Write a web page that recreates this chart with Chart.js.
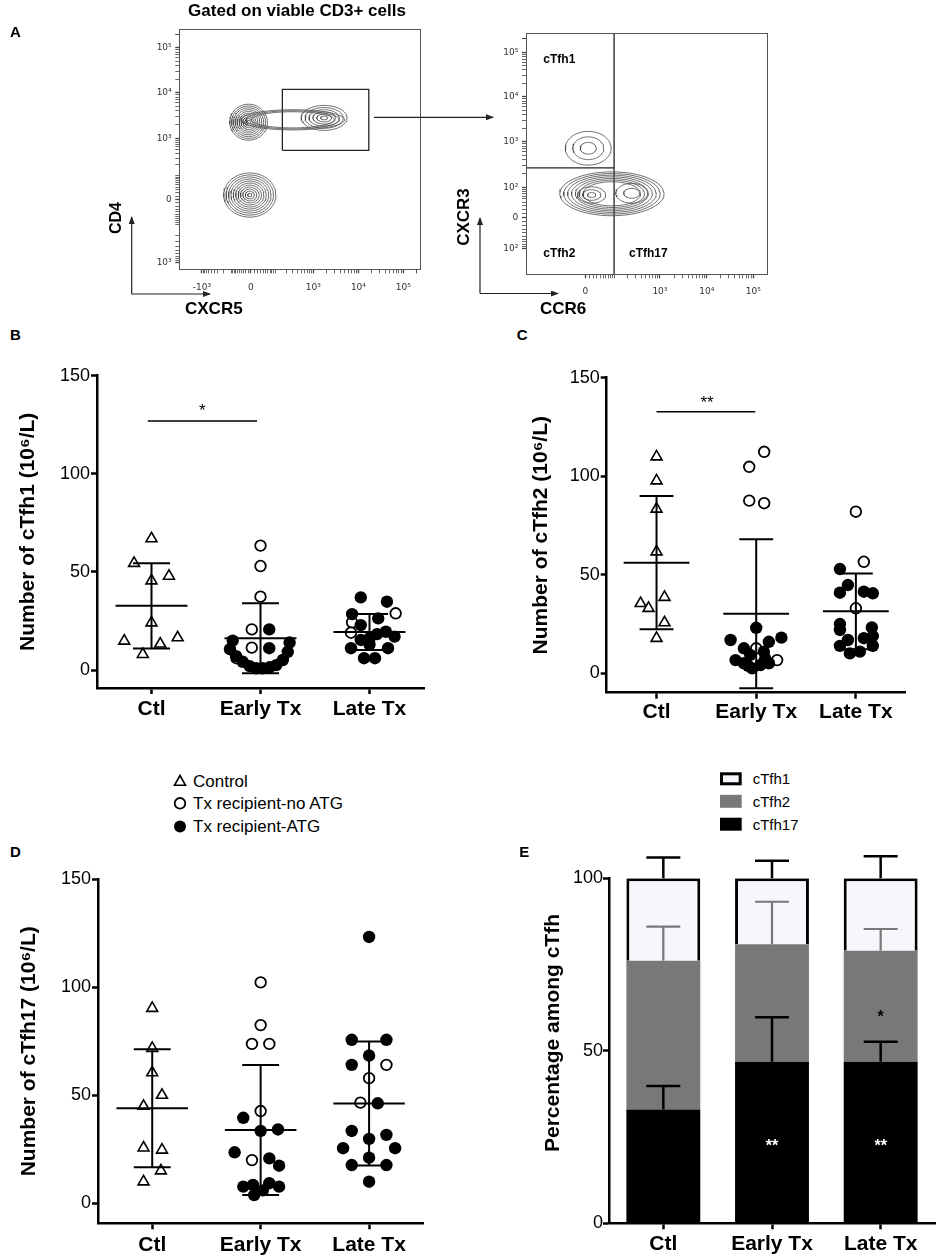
<!DOCTYPE html>
<html><head><meta charset="utf-8">
<script src="https://cdn.jsdelivr.net/npm/chart.js@4.4.1/dist/chart.umd.min.js"></script>
<style>
body{margin:0;background:#fff;}
#page{position:relative;width:938px;height:1260px;overflow:hidden;font-family:'Liberation Sans',Arial,Helvetica,sans-serif;color:#000;}
canvas{position:absolute;}
.t{position:absolute;white-space:nowrap;line-height:1;z-index:6;}
.b{font-weight:bold;}
.rot{position:absolute;transform:rotate(-90deg);text-align:center;white-space:nowrap;font-weight:bold;z-index:6;}
</style></head>
<body><div id="page">

<canvas id="flowL" width="310" height="285" style="left:120px;top:20px"></canvas>
<canvas id="flowR" width="310" height="290" style="left:470px;top:20px"></canvas>
<canvas id="cB" width="440" height="370" style="left:0px;top:360px"></canvas>
<canvas id="cC" width="478" height="370" style="left:460px;top:360px"></canvas>
<canvas id="cD" width="440" height="400" style="left:0px;top:860px"></canvas>
<canvas id="cE" width="478" height="420" style="left:460px;top:840px"></canvas>

<!-- panel letters & titles -->
<div class="t b" style="left:10px;top:24px;font-size:15px">A</div>
<div class="t b" style="left:0px;width:594px;text-align:center;top:1.6px;font-size:17px">Gated on viable CD3+ cells</div>
<div class="t b" style="left:10px;top:327.3px;font-size:15px">B</div>
<div class="t b" style="left:516.7px;top:327.3px;font-size:15px">C</div>
<div class="t b" style="left:10px;top:844px;font-size:15px">D</div>
<div class="t b" style="left:519.3px;top:844px;font-size:15px">E</div>

<!-- flow axis labels -->
<div class="rot" style="left:86px;top:208px;width:60px;height:20px;line-height:20px;font-size:16px">CD4</div>
<div class="t b" style="left:185px;top:299.6px;font-size:17px">CXCR5</div>
<div class="rot" style="left:424px;top:207px;width:80px;height:20px;line-height:20px;font-size:17px">CXCR3</div>
<div class="t b" style="left:540px;top:299.6px;font-size:17px">CCR6</div>
<div class="t b" style="left:543.3px;top:53.2px;font-size:12px">cTfh1</div>
<div class="t b" style="left:543.3px;top:246.5px;font-size:12px">cTfh2</div>
<div class="t b" style="left:629px;top:246.5px;font-size:12px">cTfh17</div>

<!-- arrows of panel A -->
<svg width="938" height="320" style="position:absolute;left:0;top:0;z-index:5">
<defs><marker id="ah" markerWidth="8" markerHeight="6" refX="7" refY="3" orient="auto" markerUnits="userSpaceOnUse"><path d="M0,0 L8,3 L0,6 z" fill="#222"/></marker></defs>
<line x1="131.7" y1="294" x2="131.7" y2="217" stroke="#222" stroke-width="1.2" marker-end="url(#ah)"/>
<line x1="131.7" y1="294" x2="210" y2="294" stroke="#222" stroke-width="1.2" marker-end="url(#ah)"/>
<line x1="480" y1="293.5" x2="480" y2="218" stroke="#222" stroke-width="1.2" marker-end="url(#ah)"/>
<line x1="480" y1="293.5" x2="558" y2="293.5" stroke="#222" stroke-width="1.2" marker-end="url(#ah)"/>
<line x1="374" y1="117.3" x2="493" y2="117.3" stroke="#222" stroke-width="1.2" marker-end="url(#ah)"/>
</svg>

<!-- legend D -->
<svg width="30" height="70" style="position:absolute;left:165px;top:770px;z-index:5">
<polygon points="15,5.5 20.5,15.3 9.5,15.3" fill="#fff" stroke="#000" stroke-width="1.6"/>
<circle cx="15" cy="33.3" r="5.3" fill="#fff" stroke="#000" stroke-width="1.8"/>
<circle cx="15" cy="56.5" r="6" fill="#000"/>
</svg>
<div class="t" style="left:193px;top:773.4px;font-size:17px">Control</div>
<div class="t" style="left:193px;top:795px;font-size:17px">Tx recipient-no ATG</div>
<div class="t" style="left:193px;top:818.4px;font-size:17px">Tx recipient-ATG</div>

<!-- legend E -->
<svg width="30" height="70" style="position:absolute;left:715px;top:768px;z-index:5">
<rect x="6.5" y="5.8" width="18.7" height="10" fill="#f6f6fb" stroke="#000" stroke-width="3"/>
<rect x="5" y="26.8" width="21.7" height="13" fill="#787878"/>
<rect x="5" y="49.7" width="21.7" height="13" fill="#000"/>
</svg>
<div class="t" style="left:752.7px;top:770.9px;font-size:15px">cTfh1</div>
<div class="t" style="left:752.7px;top:794px;font-size:15px">cTfh2</div>
<div class="t" style="left:752.7px;top:817px;font-size:15px">cTfh17</div>

<div class="rot" style="left:401.7px;top:1020.3px;width:300px;height:26px;line-height:26px;font-size:21px">Percentage among cTfh</div>

</div>
<script>
// ================= DATA =================
const categories = ['Ctl', 'Early Tx', 'Late Tx'];
const yTicksCount = [0, 50, 100, 150];
const yTicksPct = [0, 50, 100];

// ---- Panel B : cTfh1 (10^6/L) ----
const bCtlTriY   = [67.0, 54.4, 45.5, 47.9, 24.1, 14.8, 13.3, 16.5, 8.0];
const bCtlTriDx  = [0, -0.16, 0, 0.16, 0, -0.25, 0.08, 0.24, -0.08];
const bEarlyOpenY  = [63.4, 53.0, 37.4, 20.7, 11.4, 6.0];
const bEarlyOpenDx = [0, 0, 0, -0.08, -0.08, -0.22];
const bEarlyFillY  = [20.7, 11.1, 15.0, 10.6, 7.1, 4.2, 2.0, 0.9, 0.9, 1.4, 2.5, 5.1, 9.3, 14.0];
const bEarlyFillDx = [0.08, 0.08, -0.255, -0.28, -0.224, -0.163, -0.10, -0.04, 0.02, 0.083, 0.145, 0.205, 0.25, 0.267];
const bLateOpenY   = [28.9, 24.3, 19.0];
const bLateOpenDx  = [0.24, -0.16, -0.17];
const bLateFillY   = [37.0, 34.8, 28.5, 26.3, 22.9, 19.5, 17.0, 16.2, 18.3, 15.3, 11.1, 11.1, 6.0, 6.0, 13.0];
const bLateFillDx  = [-0.08, 0.16, -0.16, 0.08, -0.08, 0.15, 0.23, 0.0, 0.07, -0.08, -0.17, 0.17, -0.05, 0.05, 0.0];
const bMean = [32.7, 16.15, 19.35];
const bSd   = [21.7, 17.85, 9.15];
const bSig  = [0.966, 1.968, 126.9];

// ---- Panel C : cTfh2 (10^6/L) ----
const cCtlTriY   = [109.9, 97.7, 83.4, 61.7, 35.5, 33.0, 38.6, 25.7, 17.8];
const cCtlTriDx  = [0, 0, 0, 0, -0.16, -0.08, 0.08, 0.08, 0];
const cEarlyOpenY  = [112.4, 104.8, 87.6, 86.3, 12.7, 6.7];
const cEarlyOpenDx = [0.08, -0.07, -0.07, 0.08, 0, 0.21];
const cEarlyFillY  = [23.1, 16.9, 18.1, 12.7, 16.0, 9.3, 11.0, 6.7, 5.1, 2.5, 4.2, 5.1, 7.5, 3.8];
const cEarlyFillDx = [0, -0.257, 0.253, -0.123, 0.127, -0.06, 0.077, -0.207, -0.123, -0.04, 0.043, 0.127, 0.09, -0.08];
const cLateOpenY   = [82.0, 56.6, 33.0];
const cLateOpenDx  = [0, 0.08, 0];
const cLateFillY   = [52.9, 44.8, 40.9, 41.4, 40.6, 25.0, 23.3, 22.0, 17.8, 18.9, 16.9, 13.9, 13.9, 10.1, 11.0];
const cLateFillDx  = [-0.16, -0.08, -0.16, 0.08, 0.17, -0.16, 0.16, -0.16, 0.08, 0.17, -0.08, -0.16, 0.17, -0.06, 0.04];
const cMean = [56.15, 30.2, 31.45];
const cSd   = [33.85, 37.8, 19.25];
const cSig  = [1.0, 1.99, 132.7];

// ---- Panel D : cTfh17 (10^6/L) ----
const dCtlTriY   = [90.3, 71.8, 60.5, 50.1, 45.0, 25.7, 24.7, 15.1, 10.0];
const dCtlTriDx  = [0, 0, 0, 0.09, -0.08, -0.08, 0.09, 0.08, -0.08];
const dEarlyOpenY  = [102.3, 82.5, 73.8, 73.8, 42.7, 20.0];
const dEarlyOpenDx = [0, 0, -0.08, 0.08, 0, -0.08];
const dEarlyFillY  = [39.6, 33.5, 34.2, 23.6, 20.8, 17.4, 7.7, 8.5, 3.8, 6.0, 9.3, 7.7];
const dEarlyFillDx = [-0.16, 0, 0.16, -0.24, 0.08, 0.17, -0.16, -0.07, -0.06, 0.02, 0.08, 0.17];
const dLateOpenY   = [64.1, 57.9, 46.6];
const dLateOpenDx  = [0.16, 0, -0.08];
const dLateFillY   = [123.3, 75.7, 75.7, 68.4, 64.1, 46.3, 33.5, 31.7, 29.8, 25.5, 25.5, 21.1, 17.7, 17.7, 10.0];
const dLateFillDx  = [0, -0.16, 0.16, 0, -0.16, 0.08, -0.16, 0.16, 0, -0.24, 0.24, 0, -0.16, 0.16, 0];
const dMean = [44.0, 33.9, 46.2];
const dSd   = [27.3, 30.1, 28.75];

// ---- Panel E : percentage among cTfh ----
const eTfh17 = [33.0, 46.8, 46.8];
const eTfh2  = [43.1, 34.1, 32.2];
const eTfh1  = [23.9, 19.1, 21.0];
const eSd17  = [6.8, 12.9, 5.8];
const eSd2   = [9.9, 12.3, 6.3];
const eSd1   = [6.0, 5.1, 6.4];

// ---- Panel A : flow cytometry (display channel units 0-1000) ----
const flowLxVals = [-1000, 0, 1000, 10000, 100000];
const flowLxPos  = [94, 296, 555, 742, 928];
const flowLxLabels = ['-10³', '0', '10³', '10⁴', '10⁵'];
const flowLyVals = [-1000, 0, 1000, 10000, 100000];
const flowLyPos  = [29, 291, 545, 735, 922];
const flowLyLabels = ['10³', '0', '10³', '10⁴', '10⁵'];
const flowRxVals = [0, 1000, 10000, 100000];
const flowRxPos  = [246, 555, 749, 942];
const flowRxLabels = ['0', '10³', '10⁴', '10⁵'];
const flowRyVals = [-100, 0, 100, 1000, 10000, 100000];
const flowRyPos  = [108, 237, 361, 550, 737, 921];
const flowRyLabels = ['10²', '0', '10²', '10³', '10⁴', '10⁵'];

const flowLpopCx = [287, 292, 600, 470];
const flowLpopCy = [612, 309, 630, 622];
const flowLpopRx = [78, 108, 95, 215];
const flowLpopRy = [75, 92, 52, 42];
const flowLpopRings = [10, 11, 6, 3];
const flowLpopInner = [0.1, 0.08, 0.15, 0.8];
const flowRpopCx = [258, 356, 272, 438];
const flowRpopCy = [523, 334, 329, 336];
const flowRpopRx = [95, 216, 58, 66];
const flowRpopRy = [70, 91, 34, 41];
const flowRpopRings = [3, 7, 3, 2];
const flowRpopInner = [0.35, 0.55, 0.3, 0.5];
const gateLeftX = [427, 785];
const gateLeftY = [495, 749];
const quadX = 365;
const quadY = 442;

// ================= CHARTS =================
Chart.defaults.font.family = "'Liberation Sans', Arial, Helvetica, sans-serif";
Chart.defaults.color = '#000';
Chart.defaults.animation = false;
Chart.defaults.responsive = false;
Chart.defaults.events = [];
Chart.defaults.plugins.legend.display = false;
Chart.defaults.plugins.tooltip.enabled = false;

const sigTextPlugin = {
  id: 'sigText',
  afterDatasetsDraw(chart, args, opts) {
    const items = (opts && opts.items) || [];
    const ctx = chart.ctx;
    items.forEach(it => {
      const x = chart.scales.x.getPixelForValue(it.x);
      const y = chart.scales.y.getPixelForValue(it.y);
      ctx.save();
      ctx.fillStyle = it.color || '#000';
      ctx.font = (it.bold ? 'bold ' : '') + it.size + "px 'Liberation Sans', Arial, sans-serif";
      ctx.textAlign = 'center';
      ctx.textBaseline = 'alphabetic';
      ctx.fillText(it.text, x, y + it.size * 0.56);
      ctx.restore();
    });
  }
};

const framePlugin = {
  id: 'frame',
  afterDraw(chart) {
    const a = chart.chartArea, ctx = chart.ctx;
    ctx.save(); ctx.strokeStyle = '#555'; ctx.lineWidth = 1;
    ctx.strokeRect(Math.round(a.left) + 0.5, Math.round(a.top) + 0.5, Math.round(a.right - a.left), Math.round(a.bottom - a.top));
    ctx.restore();
  }
};

function pts(cat, ys, dxs) { return ys.map((y, i) => ({ x: cat + (dxs[i] || 0), y: y })); }
function seg(x1, y1, x2, y2, w, color) {
  return { data: [{ x: x1, y: y1 }, { x: x2, y: y2 }], showLine: true, pointRadius: 0,
           borderColor: color || '#000', borderWidth: w || 2, order: 1 };
}
const triStyle  = { pointStyle: 'triangle', pointRadius: 6.3, pointBorderWidth: 1.6, pointBorderColor: '#000', pointBackgroundColor: '#fff', showLine: false, order: 3 };
const openStyle = { pointStyle: 'circle', pointRadius: 5.3, pointBorderWidth: 1.8, pointBorderColor: '#000', pointBackgroundColor: '#fff', showLine: false, order: 3 };
const fillStyle = { pointStyle: 'circle', pointRadius: 6.2, pointBorderWidth: 0, pointBorderColor: '#000', pointBackgroundColor: '#000', showLine: false, order: 2 };

function gridOpts() { return { display: true, drawOnChartArea: false, drawTicks: true, tickLength: 6, tickWidth: 2.5, tickColor: '#000' }; }
function borderOpts() { return { display: true, color: '#000', width: 2.5 }; }

function dotChart(id, groups, means, sds, o) {
  const ds = [];
  means.forEach((m, i) => {
    const c = i + 1, s = sds[i];
    ds.push(seg(c - 0.33, m, c + 0.33, m));
    ds.push(seg(c, m - s, c, m + s));
    ds.push(seg(c - 0.17, m + s, c + 0.17, m + s));
    ds.push(seg(c - 0.17, m - s, c + 0.17, m - s));
  });
  if (o.sig) ds.push(seg(o.sig[0], o.sig[2], o.sig[1], o.sig[2], 1.6));
  groups.forEach((g, i) => { if (g.fill) ds.push(Object.assign({}, fillStyle, { data: pts(i + 1, g.fill[0], g.fill[1]) })); });
  groups.forEach((g, i) => {
    if (g.open) ds.push(Object.assign({}, openStyle, { data: pts(i + 1, g.open[0], g.open[1]) }));
    if (g.tri) ds.push(Object.assign({}, triStyle, { data: pts(i + 1, g.tri[0], g.tri[1]) }));
  });
  return new Chart(document.getElementById(id), {
    type: 'scatter',
    data: { datasets: ds },
    options: {
      devicePixelRatio: 1,
      layout: { padding: { top: o.padTop, right: o.padRight, left: 0, bottom: 0 } },
      scales: {
        x: {
          type: 'linear', min: 0.5, max: 3.5,
          afterBuildTicks: s => { s.ticks = [1, 2, 3].map(v => ({ value: v })); },
          afterFit: s => { s.height = o.xH; },
          ticks: { autoSkip: false, maxRotation: 0, padding: o.xPad, font: { size: 21, weight: 'bold' }, color: '#000', callback: v => categories[v - 1] },
          grid: gridOpts(), border: borderOpts()
        },
        y: {
          type: 'linear', min: o.yMin, max: 150,
          afterBuildTicks: s => { s.ticks = yTicksCount.map(v => ({ value: v })); },
          afterFit: s => { s.width = o.yW; },
          ticks: { autoSkip: false, padding: 1, font: { size: 18 }, color: '#000' },
          grid: gridOpts(), border: borderOpts(),
          title: { display: true, text: o.title, color: '#000', font: { size: 21, weight: 'bold' }, padding: { top: o.titlePad, bottom: 0 } }
        }
      },
      plugins: { legend: { display: false }, tooltip: { enabled: false }, sigText: { items: o.stars || [] } }
    },
    plugins: [sigTextPlugin]
  });
}

dotChart('cB', [
  { tri: [bCtlTriY, bCtlTriDx] },
  { open: [bEarlyOpenY, bEarlyOpenDx], fill: [bEarlyFillY, bEarlyFillDx] },
  { open: [bLateOpenY, bLateOpenDx], fill: [bLateFillY, bLateFillDx] }
], bMean, bSd, { padTop: 15.7, padRight: 16, yW: 97, xH: 42, xPad: 2.4, titlePad: 15.4, yMin: -9.17,
  title: 'Number of cTfh1 (10⁶/L)', sig: bSig, stars: [{ x: 1.467, y: 134.2, text: '*', size: 17 }] });

dotChart('cC', [
  { tri: [cCtlTriY, cCtlTriDx] },
  { open: [cEarlyOpenY, cEarlyOpenDx], fill: [cEarlyFillY, cEarlyFillDx] },
  { open: [cLateOpenY, cLateOpenDx], fill: [cLateFillY, cLateFillDx] }
], cMean, cSd, { padTop: 17.7, padRight: 32.3, yW: 146.7, xH: 37.3, xPad: 0.5, titlePad: 69.1, yMin: -9.84,
  title: 'Number of cTfh2 (10⁶/L)', sig: cSig, stars: [{ x: 1.507, y: 139.5, text: '**', size: 17 }] });

dotChart('cD', [
  { tri: [dCtlTriY, dCtlTriDx] },
  { open: [dEarlyOpenY, dEarlyOpenDx], fill: [dEarlyFillY, dEarlyFillDx] },
  { open: [dLateOpenY, dLateOpenDx], fill: [dLateFillY, dLateFillDx] }
], dMean, dSd, { padTop: 19.3, padRight: 16.7, yW: 98, xH: 36.7, xPad: 3.4, titlePad: 16.4, yMin: -9.26,
  title: 'Number of cTfh17 (10⁶/L)' });

// ---- Panel E ----
const errPlugin = {
  id: 'errBars',
  afterDatasetsDraw(chart, args, opts) {
    const ctx = chart.ctx, ys = chart.scales.y;
    (opts.sets || []).forEach(st => {
      const meta = chart.getDatasetMeta(st.ds);
      meta.data.forEach((bar, i) => {
        const y0 = ys.getPixelForValue(st.tops[i]);
        const y1 = ys.getPixelForValue(st.tops[i] + st.sd[i]);
        const half = bar.width * 0.23;
        ctx.save(); ctx.strokeStyle = st.color; ctx.lineWidth = st.w;
        ctx.beginPath();
        ctx.moveTo(bar.x, y0); ctx.lineTo(bar.x, y1);
        ctx.moveTo(bar.x - half, y1); ctx.lineTo(bar.x + half, y1);
        ctx.stroke(); ctx.restore();
      });
    });
  }
};
const eTop17 = eTfh17.slice();
const eTop2 = eTfh17.map((v, i) => v + eTfh2[i]);
const eTop1 = eTfh17.map((v, i) => v + eTfh2[i] + eTfh1[i]);

new Chart(document.getElementById('cE'), {
  type: 'bar',
  data: { labels: categories, datasets: [
    { label: 'cTfh17', data: eTfh17, backgroundColor: '#000', borderWidth: 0 },
    { label: 'cTfh2', data: eTfh2, backgroundColor: '#787878', borderWidth: 0 },
    { label: 'cTfh1', data: eTfh1, backgroundColor: '#f6f6fb', borderColor: '#000', borderWidth: { top: 3, left: 3, right: 3, bottom: 0 }, borderSkipped: 'start' }
  ] },
  options: {
    devicePixelRatio: 1,
    layout: { padding: { top: 38.3, right: 3, left: 0, bottom: 0 } },
    datasets: { bar: { categoryPercentage: 1, barPercentage: 0.68 } },
    scales: {
      x: { stacked: true, afterFit: s => { s.height = 36.7; },
        ticks: { autoSkip: false, maxRotation: 0, padding: 2.6, font: { size: 21, weight: 'bold' }, color: '#000' },
        grid: Object.assign(gridOpts(), { offset: false }), border: borderOpts() },
      y: { stacked: true, min: 0, max: 100,
        afterBuildTicks: s => { s.ticks = yTicksPct.map(v => ({ value: v })); },
        afterFit: s => { s.width = 149; },
        ticks: { autoSkip: false, padding: 0, font: { size: 18 }, color: '#000' },
        grid: gridOpts(), border: borderOpts() }
    },
    plugins: {
      legend: { display: false }, tooltip: { enabled: false },
      errBars: { sets: [
        { ds: 0, tops: eTop17, sd: eSd17, color: '#000', w: 2.5 },
        { ds: 1, tops: eTop2, sd: eSd2, color: '#787878', w: 2.2 },
        { ds: 2, tops: eTop1, sd: eSd1, color: '#000', w: 2.5 }
      ] },
      sigText: { items: [
        { x: 1, y: 23.5, text: '**', size: 16, bold: true, color: '#fff' },
        { x: 2, y: 23.5, text: '**', size: 16, bold: true, color: '#fff' },
        { x: 2, y: 61.0, text: '*', size: 16, bold: true, color: '#000' }
      ] }
    }
  },
  plugins: [errPlugin, sigTextPlugin]
});

// ---- Panel A ----
function valueToPos(v, vals, pos) {
  const c = 50;
  for (let i = 0; i < vals.length - 1; i++) {
    const a = vals[i], b = vals[i + 1];
    if (v >= a && v <= b) {
      const f = (a > 0) ? Math.log10(v / a) / Math.log10(b / a)
        : (Math.asinh(v / c) - Math.asinh(a / c)) / (Math.asinh(b / c) - Math.asinh(a / c));
      return pos[i] + f * (pos[i + 1] - pos[i]);
    }
  }
  const n = vals.length - 1;
  if (v > vals[n] && vals[n] > 0 && v <= 262144) {
    return pos[n] + Math.log10(v / vals[n]) * (pos[n] - pos[n - 1]);
  }
  return null;
}
function flowTicks(vals, pos, labels) {
  const ticks = vals.map((v, i) => ({ value: pos[i], major: true, lab: labels[i] }));
  for (let k = 1; k <= 5; k++) for (let m = 1; m <= 9; m++) {
    [m * Math.pow(10, k), -m * Math.pow(10, k)].forEach(v => {
      if (vals.indexOf(v) >= 0) return;
      const p = valueToPos(v, vals, pos);
      if (p != null && p > 2 && p < 998) ticks.push({ value: p, major: false, lab: '' });
    });
  }
  const p2 = valueToPos(200000, vals, pos);
  if (p2 != null && p2 < 998) ticks.push({ value: p2, major: false, lab: '' });
  ticks.sort((a, b) => a.value - b.value);
  return ticks;
}
function ellipse(cx, cy, rx, ry) {
  const out = [];
  for (let i = 0; i <= 64; i++) { const t = i / 64 * Math.PI * 2; out.push({ x: cx + rx * Math.cos(t), y: cy + ry * Math.sin(t) }); }
  return out;
}
function flowChart(id, o) {
  const ds = [];
  o.cx.forEach((cx, j) => {
    const n = o.rings[j];
    for (let k = 0; k < n; k++) {
      const s = n > 1 ? 1 - k * (1 - o.inner[j]) / (n - 1) : 1;
      ds.push({ data: ellipse(cx, o.cy[j], o.rx[j] * s, o.ry[j] * s), showLine: true, pointRadius: 0, borderColor: '#4a4a4a', borderWidth: 0.8 });
    }
  });
  (o.lines || []).forEach(L => ds.push({ data: L, showLine: true, pointRadius: 0, borderColor: '#222', borderWidth: 1.3 }));
  const xT = () => flowTicks(o.xVals, o.xPos, o.xLabels);
  const yT = () => flowTicks(o.yVals, o.yPos, o.yLabels);
  const tickFont = { family: "'DejaVu Sans', sans-serif", size: 9 };
  const g = () => ({ display: true, drawOnChartArea: false, drawTicks: true, tickLength: 4, tickColor: '#444', tickWidth: c => (c.tick && c.tick.major) ? 1.3 : 0.8 });
  return new Chart(document.getElementById(id), {
    type: 'scatter',
    data: { datasets: ds },
    options: {
      devicePixelRatio: 1,
      layout: { padding: { top: o.padTop, right: o.padRight, left: 0, bottom: 0 } },
      scales: {
        x: { type: 'linear', min: 0, max: 1000,
          afterBuildTicks: s => { s.ticks = xT(); }, afterFit: s => { s.height = o.xH; },
          ticks: { autoSkip: false, maxRotation: 0, padding: o.xPad, font: tickFont, color: '#333', callback: (v, i, t) => (t[i] && t[i].lab) || '' },
          grid: g(), border: { display: true, color: '#555', width: 1 } },
        y: { type: 'linear', min: 0, max: 1000,
          afterBuildTicks: s => { s.ticks = yT(); }, afterFit: s => { s.width = o.yW; },
          ticks: { autoSkip: false, padding: o.yPad, font: tickFont, color: '#333', callback: (v, i, t) => (t[i] && t[i].lab) || '' },
          grid: g(), border: { display: true, color: '#555', width: 1 } }
      },
      plugins: { legend: { display: false }, tooltip: { enabled: false } }
    },
    plugins: [framePlugin]
  });
}

const gateRect = [
  { x: gateLeftX[0], y: gateLeftY[0] }, { x: gateLeftX[1], y: gateLeftY[0] },
  { x: gateLeftX[1], y: gateLeftY[1] }, { x: gateLeftX[0], y: gateLeftY[1] },
  { x: gateLeftX[0], y: gateLeftY[0] }
];
flowChart('flowL', {
  cx: flowLpopCx, cy: flowLpopCy, rx: flowLpopRx, ry: flowLpopRy, rings: flowLpopRings, inner: flowLpopInner,
  lines: [gateRect],
  xVals: flowLxVals, xPos: flowLxPos, xLabels: flowLxLabels,
  yVals: flowLyVals, yPos: flowLyPos, yLabels: flowLyLabels,
  padTop: 9, padRight: 9.3, yW: 59.3, xH: 35.7, xPad: 8.6, yPad: 3.6
});
flowChart('flowR', {
  cx: flowRpopCx, cy: flowRpopCy, rx: flowRpopRx, ry: flowRpopRy, rings: flowRpopRings, inner: flowRpopInner,
  lines: [[{ x: quadX, y: 0 }, { x: quadX, y: 1000 }], [{ x: 0, y: quadY }, { x: quadX, y: quadY }]],
  xVals: flowRxVals, xPos: flowRxPos, xLabels: flowRxLabels,
  yVals: flowRyVals, yPos: flowRyPos, yLabels: flowRyLabels,
  padTop: 13.3, padRight: 12.7, yW: 56, xH: 35.7, xPad: 8, yPad: 3.7
});
</script>
</body></html>
